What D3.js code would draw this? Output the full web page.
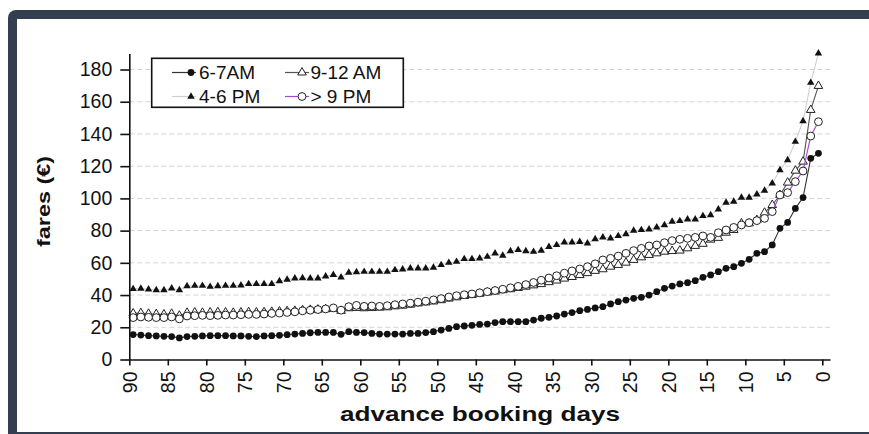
<!DOCTYPE html>
<html><head><meta charset="utf-8">
<script src="https://cdn.jsdelivr.net/npm/d3@7"></script>
<style>
html,body{margin:0;padding:0;background:#fff;}
svg{display:block;font-family:"Liberation Sans",Arial,sans-serif;}
</style></head><body>
<svg id="chart" width="869" height="434"></svg>
<script>
// Advance booking days, from 90 down to 1 (one fare per day)
const days = d3.range(90, 0, -1);

// Average fares (€) per departure time slot
const fare67am = [15.5,15.2,14.8,14.6,14.4,14.2,13.4,14.2,14.4,14.6,14.8,14.8,14.8,14.6,14.6,14.4,14.2,14.6,14.8,15.0,15.4,15.8,16.2,16.6,16.8,16.8,16.8,15.6,17.3,16.8,
  16.7,16.2,15.8,15.8,15.8,15.8,16.2,16.2,16.7,17.3,18.3,19.3,20.4,20.8,21.2,21.8,22.0,22.9,23.5,23.5,23.5,23.5,24.5,25.6,26.2,27.0,28.2,29.1,30.3,31.1,32.0,
  32.8,34.5,35.9,36.9,38.0,38.6,40.0,42.1,44.2,45.6,46.9,47.7,48.9,
  51.0,52.5,54.5,56.6,57.6,59.7,62.2,65.9,66.9,71.1,81.4,85.1,93.8,100.5,124.9,128.0];
const fare912am = [28.6,28.8,28.4,28.2,28.0,28.4,27.2,29.0,29.2,29.0,29.2,29.4,29.2,29.0,29.2,29.4,29.2,29.4,29.6,29.8,30.0,30.2,30.6,30.8,31.0,31.2,31.4,30.2,31.8,32.0,
  31.8,32.0,32.2,32.4,33.0,33.4,34.0,34.8,35.4,36.0,36.8,37.8,38.6,39.4,40.0,40.8,41.6,42.2,43.0,43.6,44.4,45.2,46.0,46.8,48.0,49.0,50.2,51.2,52.4,53.6,55.0,
  56.0,57.6,58.7,60.1,61.8,63.4,64.9,65.9,66.9,67.3,67.6,69.0,70.5,
  71.8,74.4,75.5,78.7,80.4,84.5,84.5,86.6,91.1,95.9,102.1,109.8,117.2,122.8,154.9,169.8];
const fare46pm = [43.8,44.0,43.6,43.1,43.1,44.2,43.1,45.6,45.8,45.8,45.2,45.6,45.8,45.8,46.0,46.9,46.9,46.9,46.9,48.7,49.6,50.4,50.6,50.4,50.4,51.6,52.5,51.0,53.9,54.3,
  54.5,54.5,54.5,54.5,55.6,56.0,56.6,56.6,56.6,57.0,58.7,60.1,60.7,62.4,62.4,62.8,63.8,65.9,64.5,67.3,68.0,67.3,66.9,67.6,70.0,71.1,72.7,72.7,73.1,72.1,74.8,
  75.8,75.2,76.7,77.9,80.0,80.4,80.8,82.0,83.5,85.6,86.0,87.0,87.0,
  89.1,89.7,93.2,97.4,98.0,100.5,100.5,102.5,104.8,109.4,117.6,123.8,135.2,148.0,171.8,190.0];
const fare9pm = [26.0,26.4,26.2,26.0,26.0,26.4,25.2,27.0,27.2,27.4,27.2,27.4,27.6,27.6,27.8,28.0,28.0,28.2,28.6,28.8,29.2,29.6,30.2,30.6,31.0,31.4,32.0,30.6,32.8,33.6,
  33.0,33.2,33.0,33.4,34.0,34.5,35.0,35.6,36.2,37.0,37.8,38.8,39.6,40.2,40.7,41.4,42.1,42.8,43.6,44.5,45.4,46.5,47.8,49.2,50.6,52.0,53.6,55.0,56.2,57.6,59.4,
  61.8,62.8,64.2,65.9,67.6,69.0,70.5,71.1,72.5,73.8,74.6,75.2,75.8,
  76.7,75.8,78.7,80.4,82.0,83.5,84.9,86.2,87.6,91.8,102.1,103.6,110.4,117.0,138.7,147.6];

const seriesNames = ["6-7AM", "9-12 AM", "4-6 PM", "> 9 PM"];
const xTickValues = [90,85,80,75,70,65,60,55,50,45,40,35,30,25,20,15,10,5,0];
const yTickValues = [0,20,40,60,80,100,120,140,160,180];

const svg = d3.select("#chart");

// Dark frame around the panel
svg.append("rect").attr("x", 8).attr("y", 10).attr("width", 900).attr("height", 450)
  .attr("rx", 8).attr("fill", "#333f50");
svg.append("rect").attr("x", 17).attr("y", 19).attr("width", 890).attr("height", 413)
  .attr("fill", "#fff");

const x = d3.scaleLinear().domain([90, -1]).range([129.3, 830]);
const y = d3.scaleLinear().domain([0, 190]).range([359.5, 53.4]);

// Dashed horizontal gridlines
svg.append("g").selectAll("line").data(yTickValues.filter(v => v > 0)).join("line")
  .attr("x1", x(90)).attr("x2", x(-1))
  .attr("y1", d => y(d)).attr("y2", d => y(d))
  .attr("stroke", "#d4d4d4").attr("stroke-width", 1).attr("stroke-dasharray", "5,3");

// Series styles
const series = [
  {name: seriesNames[0], values: fare67am, line: "#333", symbol: d3.symbolCircle, size: 36, fill: "#111", stroke: "none"},
  {name: seriesNames[1], values: fare912am, line: "#555", symbol: d3.symbolTriangle, size: 32, fill: "#fff", stroke: "#222"},
  {name: seriesNames[2], values: fare46pm, line: "#cfcfcf", symbol: d3.symbolTriangle, size: 24, fill: "#111", stroke: "none"},
  {name: seriesNames[3], values: fare9pm, line: "#a446d0", symbol: d3.symbolCircle, size: 48, fill: "#fff", stroke: "#222"}
];

// Each day's point sits in the middle of its day interval
const px = d => x(d - 0.5);
const line = d3.line().x((v, i) => px(days[i])).y(v => y(v));

const drawOrder = [2, 0, 1, 3];
drawOrder.forEach(k => {
  const s = series[k];
  const g = svg.append("g");
  g.append("path").attr("d", line(s.values)).attr("fill", "none")
    .attr("stroke", s.line).attr("stroke-width", 1.1);
  g.selectAll("path.m").data(s.values).join("path").attr("class", "m")
    .attr("transform", (v, i) => `translate(${px(days[i])},${y(v)})`)
    .attr("d", d3.symbol().type(s.symbol).size(s.size))
    .attr("fill", s.fill).attr("stroke", s.stroke).attr("stroke-width", 1);
});

// Axes
const yAxis = svg.append("g").attr("transform", `translate(${x(90)},0)`)
  .call(d3.axisLeft(y).tickValues(yTickValues).tickSize(9).tickSizeOuter(0).tickPadding(8));
const xAxis = svg.append("g").attr("transform", `translate(0,${y(0)})`)
  .call(d3.axisBottom(x).tickValues(xTickValues).tickSize(6).tickSizeOuter(0));
[yAxis, xAxis].forEach(a => {
  a.select(".domain").attr("stroke", "#111").attr("stroke-width", 1.6);
  a.selectAll(".tick line").attr("stroke", "#111").attr("stroke-width", 1.6);
  a.selectAll("text").attr("fill", "#111").attr("font-size", 19.5)
    .attr("font-family", "'Liberation Sans',Arial,sans-serif");
});
xAxis.selectAll(".tick text")
  .attr("transform", "rotate(-90)").attr("text-anchor", "end")
  .attr("x", -12).attr("y", 0).attr("dy", "0.36em");

// Axis titles
svg.append("text").attr("transform", "translate(480,421) scale(1.34,1)")
  .attr("text-anchor", "middle").attr("font-weight", "bold").attr("font-size", 19.5)
  .attr("fill", "#111").text("advance booking days");
svg.append("text").attr("transform", "translate(50,201.5) rotate(-90) scale(1.3,1)")
  .attr("text-anchor", "middle").attr("font-weight", "bold").attr("font-size", 18)
  .attr("fill", "#111").text("fares (€)");

// Legend
const legend = svg.append("g");
legend.append("rect").attr("x", 151.7).attr("y", 58.3).attr("width", 251.6).attr("height", 49)
  .attr("fill", "#fff").attr("stroke", "#111").attr("stroke-width", 1.6);
const legendCols = [172, 285];
const legendRows = [72.5, 96.5];
series.forEach((s, k) => {
  const col = k % 2, row = Math.floor(k / 2);
  const lx = legendCols[col], ly = legendRows[row];
  const gi = legend.append("g").attr("transform", `translate(${lx},${ly})`);
  gi.append("line").attr("x1", 0).attr("x2", 24).attr("y1", 0).attr("y2", 0)
    .attr("stroke", s.line).attr("stroke-width", 1.2);
  gi.append("path").attr("transform", `translate(${col === 0 ? 19 : 17},0)`)
    .attr("d", d3.symbol().type(s.symbol).size(s.size))
    .attr("fill", s.fill).attr("stroke", s.stroke).attr("stroke-width", 1);
  gi.append("text").attr("x", col === 0 ? 27 : 25.5).attr("y", 0).attr("dy", "0.36em")
    .attr("font-size", 19).attr("fill", "#111").text(s.name);
});
</script>
</body></html>
